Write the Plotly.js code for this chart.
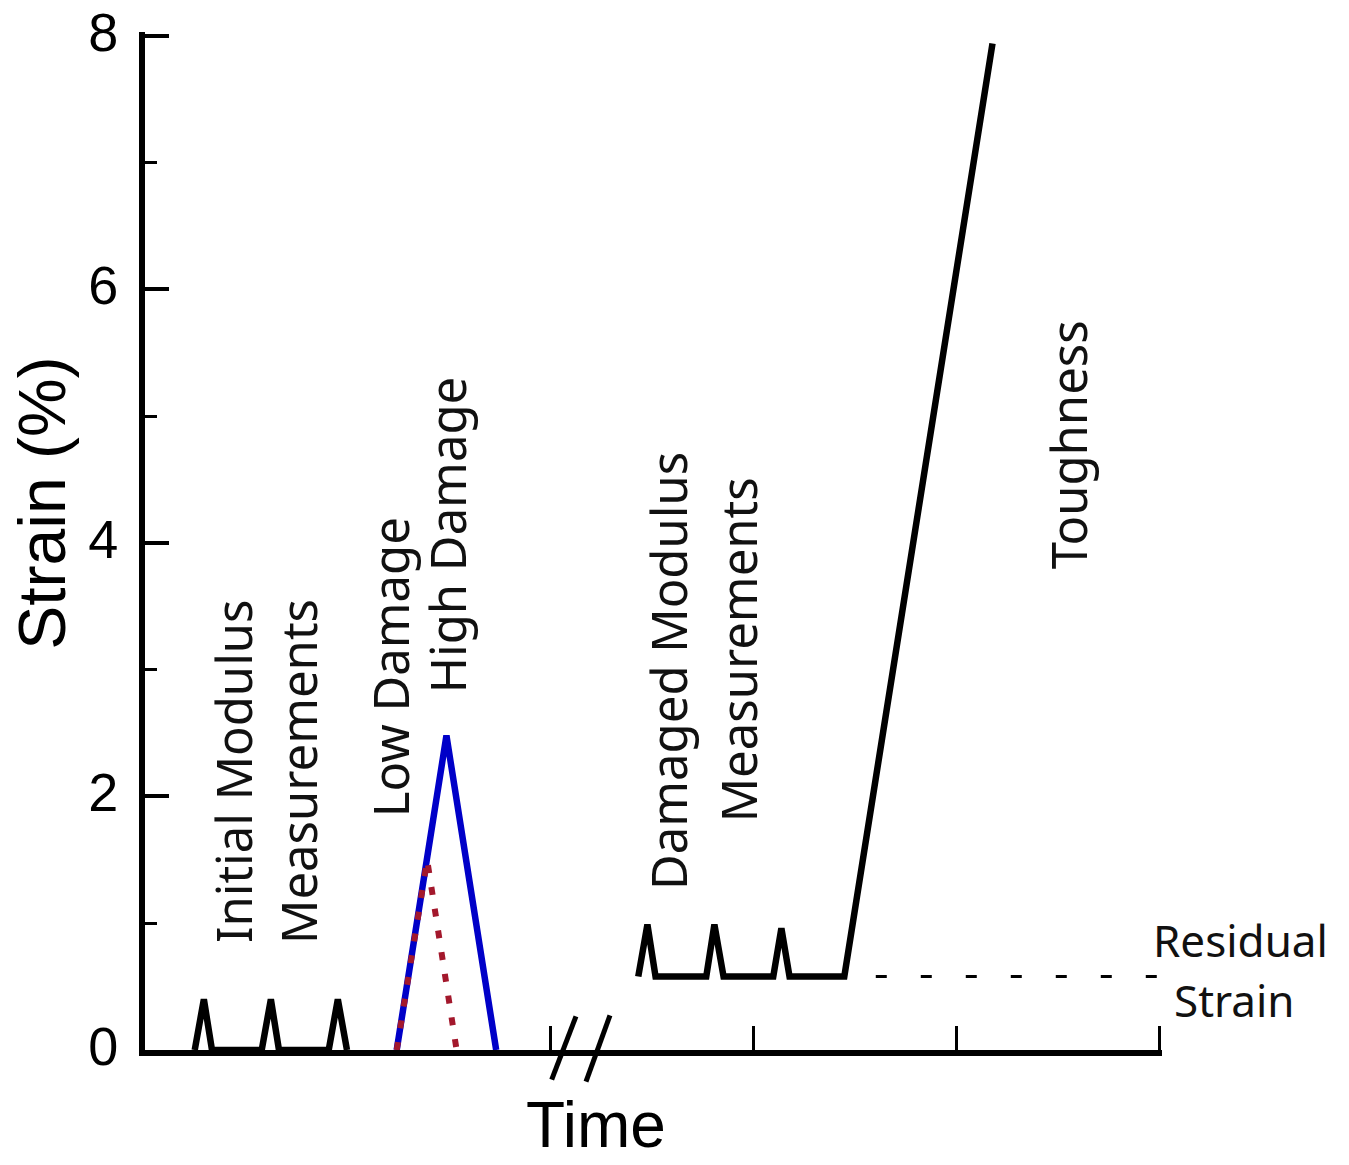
<!DOCTYPE html>
<html>
<head>
<meta charset="utf-8">
<script src="https://cdn.plot.ly/plotly-3.0.1.min.js"></script>
<style>html,body{margin:0;padding:0;background:#fff;}#chart{width:1349px;height:1165px;}</style>
</head>
<body>
<div id="chart"></div>
<script>
// ---- data ----
const initialX = [0.49, 0.58, 0.66, 1.15, 1.24, 1.32, 1.81, 1.90, 1.99];
const initialY = [0, 0.40, 0, 0, 0.40, 0, 0, 0.40, 0];

const highDamageX = [2.48, 2.97, 3.46];
const highDamageY = [0, 2.48, 0];

const lowDamageX = [2.48, 2.78, 3.07];
const lowDamageY = [0, 1.50, 0];

const damagedX = [4.86, 4.95, 5.03, 5.53, 5.61, 5.70, 6.19, 6.27, 6.35, 6.89, 8.35];
const damagedY = [0.58, 0.99, 0.58, 0.58, 0.99, 0.58, 0.58, 0.96, 0.58, 0.58, 7.94];

const residualX = [7.20, 10.0];
const residualY = [0.58, 0.58];

const breakX1 = [4.007, 4.246];
const breakX2 = [4.345, 4.581];
const breakPaperY1 = [-0.029, 0.033];
const breakPaperY2 = [-0.031, 0.034];

const xTickVals = [4, 6, 8, 10];
const yTickVals = [0, 2, 4, 6, 8];

const labels = [
  {text: 'Initial Modulus', x: 0.867, y: 2.20},
  {text: 'Measurements', x: 1.507, y: 2.20},
  {text: 'Low Damage', x: 2.414, y: 3.02},
  {text: 'High Damage', x: 2.975, y: 4.06},
  {text: 'Damaged Modulus', x: 5.153, y: 2.99},
  {text: 'Measurements', x: 5.842, y: 3.16},
  {text: 'Toughness', x: 9.094, y: 4.77}
];

// ---- chart ----
const humanist = '"Noto Sans", "Open Sans", sans-serif';
const helv = '"Liberation Sans", Arial, sans-serif';

const traces = [
  {x: initialX, y: initialY, mode: 'lines', line: {color: '#000', width: 6.5}, hoverinfo: 'skip'},
  {x: highDamageX, y: highDamageY, mode: 'lines', line: {color: '#0000c8', width: 6.5}, hoverinfo: 'skip'},
  {x: lowDamageX, y: lowDamageY, mode: 'lines', line: {color: '#a3182c', width: 6, dash: '8px,14px'}, hoverinfo: 'skip'},
  {x: damagedX, y: damagedY, mode: 'lines', line: {color: '#000', width: 6.5}, hoverinfo: 'skip'},
  {x: residualX, y: residualY, mode: 'lines', line: {color: '#000', width: 3, dash: '11px,34px'}, hoverinfo: 'skip'}
];

const annotations = labels.map(l => ({
  text: l.text, x: l.x, y: l.y, xref: 'x', yref: 'y', textangle: -90,
  showarrow: false, xanchor: 'center', yanchor: 'middle',
  font: {family: humanist, size: 49, color: '#111'}
}));
// paper positions below are for a plot area spanning y 32..1050 px
annotations.push(
  {text: 'Residual', x: 1.0768, y: 0.1081, xref: 'paper', yref: 'paper', showarrow: false,
   xanchor: 'center', yanchor: 'middle', font: {family: humanist, size: 44, color: '#111'}},
  {text: 'Strain', x: 1.0709, y: 0.0491, xref: 'paper', yref: 'paper', showarrow: false,
   xanchor: 'center', yanchor: 'middle', font: {family: humanist, size: 44, color: '#111'}},
  {text: 'Time', x: 0.4433, y: -0.1110, xref: 'paper', yref: 'paper', showarrow: false,
   xanchor: 'center', yanchor: 'bottom', font: {family: helv, size: 64, color: '#000'}},
  {text: 'Strain (%)', x: -0.1015, y: 0.5373, xref: 'paper', yref: 'paper', showarrow: false, textangle: -90,
   xanchor: 'center', yanchor: 'middle', font: {family: helv, size: 66, color: '#000'}}
);

const shapes = [
  {type: 'line', xref: 'x', yref: 'paper', x0: breakX1[0], x1: breakX1[1], y0: breakPaperY1[0], y1: breakPaperY1[1],
   line: {color: '#000', width: 5}},
  {type: 'line', xref: 'x', yref: 'paper', x0: breakX2[0], x1: breakX2[1], y0: breakPaperY2[0], y1: breakPaperY2[1],
   line: {color: '#000', width: 5}}
];

const layout = {
  width: 1349, height: 1165,
  margin: {l: 145, r: 187, t: 32, b: 115, pad: 0},
  paper_bgcolor: '#fff', plot_bgcolor: '#fff',
  showlegend: false,
  xaxis: {
    range: [0, 10.02], showgrid: false, zeroline: false,
    showline: true, linecolor: '#000', linewidth: 6,
    ticks: 'inside', tickvals: xTickVals, ticklen: 24, tickwidth: 3, tickcolor: '#000',
    showticklabels: false, fixedrange: true
  },
  yaxis: {
    range: [0, 8.03], showgrid: false, zeroline: false,
    showline: true, linecolor: '#000', linewidth: 6,
    ticks: 'inside', tickvals: yTickVals, ticklen: 24, tickwidth: 4, tickcolor: '#000',
    ticklabelstandoff: 10, ticklabelshift: -4, ticklabeloverflow: 'allow',
    tickfont: {family: helv, size: 54, color: '#000'},
    minor: {dtick: 1, ticks: 'inside', ticklen: 12, tickwidth: 3, tickcolor: '#000'},
    fixedrange: true
  },
  annotations: annotations,
  shapes: shapes
};

Plotly.newPlot('chart', traces, layout, {staticPlot: true, displayModeBar: false});
</script>
</body>
</html>
